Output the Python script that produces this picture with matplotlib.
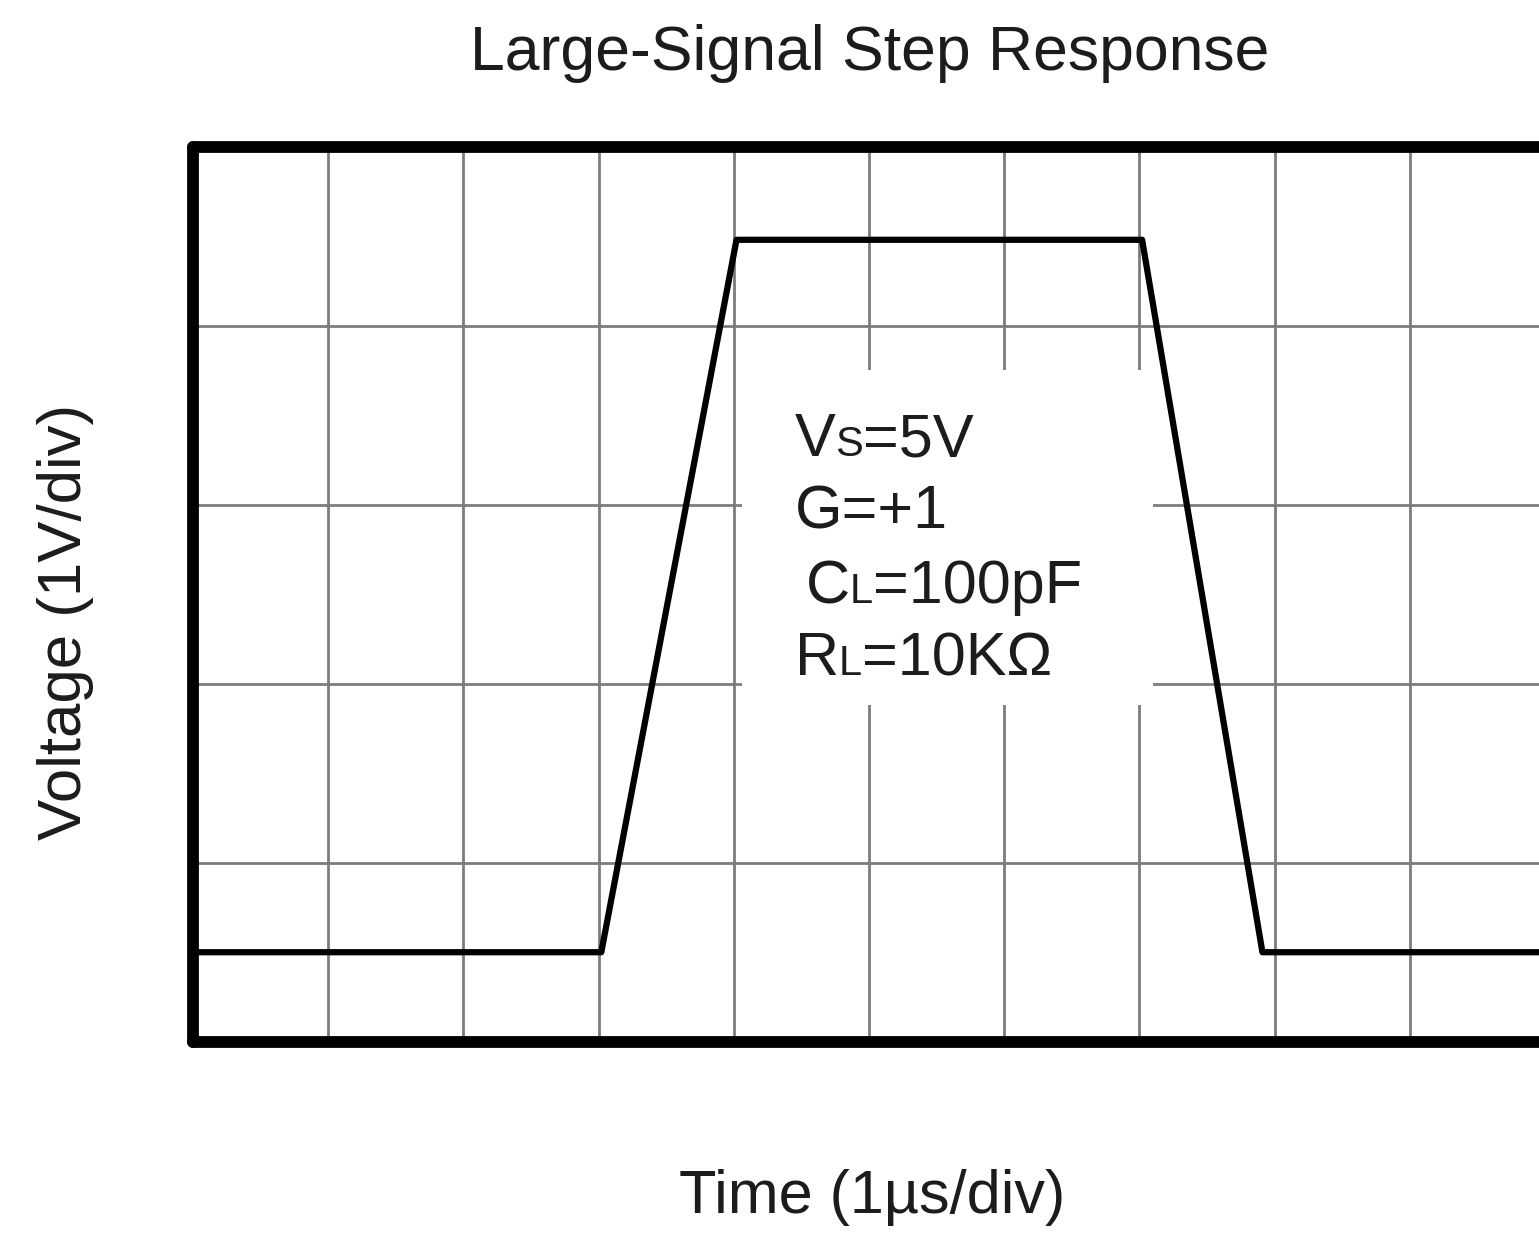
import matplotlib
matplotlib.use("Agg")
import matplotlib.pyplot as plt
from matplotlib.patches import Rectangle
from matplotlib.transforms import offset_copy

# ---- data (in divisions) ----
time_div = [0.0, 3.02, 4.02, 7.02, 7.91, 10.0]
voltage_div = [0.5, 0.5, 4.48, 4.48, 0.5, 0.5]
x_grid = [1, 2, 3, 4, 5, 6, 7, 8, 9]
y_grid = [1, 2, 3, 4]
# conditions: (main, small-cap subscript, rest)
cond_lines = [("V", "S", "=5V"), ("G=+1", "", ""), ("C", "L", "=100pF"), ("R", "L", "=10KΩ")]
cond_x = [4.45, 4.45, 4.53, 4.45]
cond_y = [3.27, 2.865, 2.45, 2.046]

title = "Large-Signal Step Response"
xlabel = "Time (1µs/div)"
ylabel = "Voltage (1V/div)"

plt.rcParams['font.family'] = ['Liberation Sans', 'DejaVu Sans']
TXT = '#1c1c1c'

fig = plt.figure(figsize=(15.39, 12.35), dpi=100)
ax = fig.add_axes([0.1254, 0.1565, 0.8785, 0.7247])
ax.set_xlim(0, 10)
ax.set_ylim(0, 5)
ax.set_xticks(x_grid)
ax.set_yticks(y_grid)
ax.tick_params(length=0, labelbottom=False, labelleft=False)
ax.set_axisbelow(True)
ax.grid(True, color='#7c7c7c', linewidth=2.0)
for s in ax.spines.values():
    s.set_linewidth(8.5)
    s.set_color('black')
    s.set_capstyle('round')

# white background behind the condition text
ax.add_patch(Rectangle((4.06, 1.88), 7.10 - 4.06, 3.75 - 1.88,
                       facecolor='white', edgecolor='none', zorder=1))

ax.plot(time_div, voltage_div, color='black', linewidth=4.5,
        solid_joinstyle='round', zorder=3)

renderer = fig.canvas.get_renderer()
big, small = 44, 30
for (a, b, c), x0, y0 in zip(cond_lines, cond_x, cond_y):
    offset = 0.0
    for txt, fs in ((a, big), (b, small), (c, big)):
        if not txt:
            continue
        tr = offset_copy(ax.transData, fig=fig, x=offset, y=0, units='dots')
        t = ax.text(x0, y0, txt, fontsize=fs, color=TXT, va='baseline',
                    ha='left', transform=tr, zorder=4)
        offset += t.get_window_extent(renderer).width

fig.text(870 / 1539, 1 - 70 / 1235, title, fontsize=45, color=TXT,
         ha='center', va='baseline')
fig.text(872 / 1539, 1 - 1213 / 1235, xlabel, fontsize=44, color=TXT,
         ha='center', va='baseline')
fig.text(66 / 1539, 1 - 622 / 1235, ylabel, fontsize=44.5, color=TXT,
         ha='center', va='center', rotation=90)

fig.savefig("out.png", dpi=100, facecolor='white')
